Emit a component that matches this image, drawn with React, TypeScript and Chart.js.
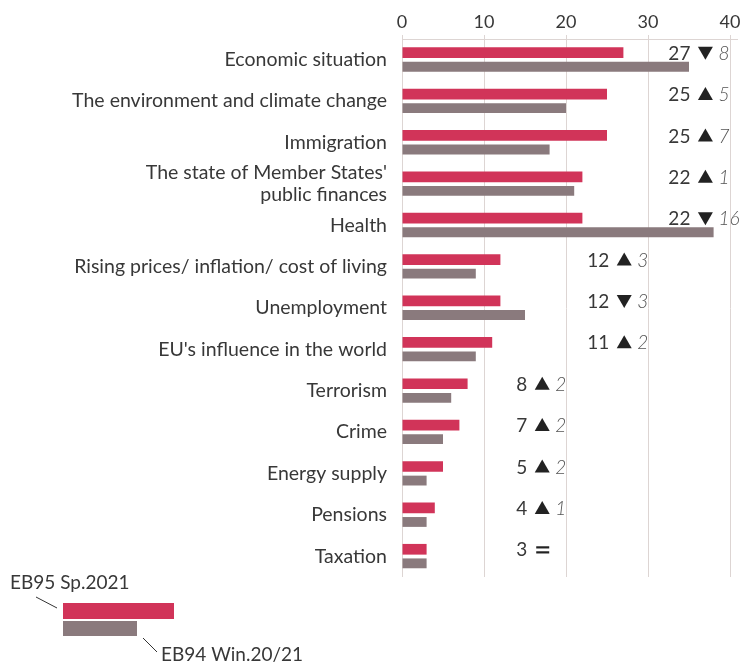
import React, { useEffect, useRef } from "react";
import { Chart, registerables } from "chart.js";

Chart.register(...registerables);

const categories: (string | string[])[] = [
  "Economic situation",
  "The environment and climate change",
  "Immigration",
  ["The state of Member States'", "public finances"],
  "Health",
  "Rising prices/ inflation/ cost of living",
  "Unemployment",
  "EU's influence in the world",
  "Terrorism",
  "Crime",
  "Energy supply",
  "Pensions",
  "Taxation",
];
const spring2021 = [27, 25, 25, 22, 22, 12, 12, 11, 8, 7, 5, 4, 3];
const winter2021 = [35, 20, 18, 21, 38, 9, 15, 9, 6, 5, 3, 3, 3];
const xTicks = [0, 10, 20, 30, 40];
const seriesLabels = ["EB95 Sp.2021", "EB94 Win.20/21"];

const FONT = "Lato";
const WEIGHT = 400;
const RED = "#d13459";
const GREY = "#8a7a7d";
const TEXT = "#383838";
const GRID = "#ddd5d3";

const annotationPlugin = {
  id: "annotations",
  afterDatasetsDraw(chart: any) {
    const ctx = chart.ctx as CanvasRenderingContext2D;
    const xs = chart.scales.x;
    const meta = chart.getDatasetMeta(0);
    ctx.save();
    spring2021.forEach((v, i) => {
      const bar = meta.data[i];
      if (!bar) return;
      const y = bar.y;
      const col = i < 5 ? 37 : i < 8 ? 27.1 : 17.1;
      const cx = xs.getPixelForValue(col);
      const diff = v - winter2021[i];
      ctx.font = `${WEIGHT} 19px ${FONT}`;
      ctx.fillStyle = TEXT;
      ctx.textAlign = "right";
      ctx.textBaseline = "middle";
      ctx.fillText(String(v), cx - 15, y + 1);
      if (diff === 0) {
        ctx.fillStyle = "#222";
        ctx.fillRect(cx - 6, y - 3, 13, 2.2);
        ctx.fillRect(cx - 6, y + 2, 13, 2.2);
      } else {
        ctx.fillStyle = "#222";
        ctx.beginPath();
        if (diff > 0) {
          ctx.moveTo(cx - 7.5, y + 6);
          ctx.lineTo(cx + 7.5, y + 6);
          ctx.lineTo(cx, y - 7);
        } else {
          ctx.moveTo(cx - 7.5, y - 6);
          ctx.lineTo(cx + 7.5, y - 6);
          ctx.lineTo(cx, y + 7);
        }
        ctx.closePath();
        ctx.fill();
        ctx.font = `italic 300 19px ${FONT}`;
        ctx.fillStyle = "#555555";
        ctx.textAlign = "left";
        ctx.fillText(String(Math.abs(diff)), cx + 13, y + 1);
      }
    });
    ctx.restore();
  },
  afterDraw(chart: any) {
    const ctx = chart.ctx as CanvasRenderingContext2D;
    const area = chart.chartArea;
    ctx.save();
    // extend top axis line slightly beyond the 40 gridline
    ctx.strokeStyle = GRID;
    ctx.lineWidth = 1;
    ctx.beginPath();
    ctx.moveTo(area.right, area.top + 0.5);
    ctx.lineTo(area.right + 8, area.top + 0.5);
    ctx.stroke();

    // custom legend
    ctx.fillStyle = RED;
    ctx.fillRect(63, 603, 111, 16);
    ctx.fillStyle = GREY;
    ctx.fillRect(63, 621, 74, 15);
    ctx.strokeStyle = "#333";
    ctx.lineWidth = 1;
    ctx.beginPath();
    ctx.moveTo(36, 597);
    ctx.lineTo(57, 608);
    ctx.moveTo(143, 638);
    ctx.lineTo(157, 652);
    ctx.stroke();
    ctx.fillStyle = TEXT;
    ctx.font = `${WEIGHT} 19px ${FONT}`;
    ctx.textAlign = "left";
    ctx.textBaseline = "alphabetic";
    ctx.fillText(seriesLabels[0], 10, 589);
    ctx.fillText(seriesLabels[1], 161, 661);
    ctx.restore();
  },
};

export default function App() {
  const ref = useRef<HTMLCanvasElement | null>(null);
  useEffect(() => {
    document.body.style.margin = "0";
    const canvas = ref.current;
    if (!canvas) return;
    const chart = new Chart(canvas, {
      type: "bar",
      data: {
        labels: categories,
        datasets: [
          {
            label: seriesLabels[0],
            data: spring2021,
            backgroundColor: RED,
            borderWidth: 0,
            categoryPercentage: 0.68,
            barPercentage: 0.76,
          },
          {
            label: seriesLabels[1],
            data: winter2021,
            backgroundColor: GREY,
            borderWidth: 0,
            categoryPercentage: 0.68,
            barPercentage: 0.7,
          },
        ],
      },
      options: {
        indexAxis: "y",
        animation: false,
        responsive: false,
        maintainAspectRatio: false,
        layout: { padding: { top: 0, right: 21, bottom: 89, left: 0 } },
        plugins: {
          legend: { display: false },
          tooltip: { enabled: false },
          title: { display: false },
        },
        scales: {
          x: {
            position: "top",
            min: 0,
            max: 40,
            afterBuildTicks: (scale: any) => {
              scale.ticks = xTicks.map((v) => ({ value: v }));
            },
            afterFit: (scale: any) => {
              scale.height = 39;
            },
            grid: {
              color: GRID,
              lineWidth: 1,
              drawTicks: true,
              tickLength: 4,
            },
            border: { display: true, color: GRID, width: 1 },
            ticks: {
              padding: 2,
              color: TEXT,
              font: { family: FONT, size: 18, weight: WEIGHT },
            },
          },
          y: {
            afterFit: (scale: any) => {
              scale.width = 402;
            },
            grid: { display: false, drawTicks: false },
            border: { display: false },
            ticks: {
              padding: 15,
              color: TEXT,
              font: { family: FONT, size: 19.5, lineHeight: 1.15, weight: WEIGHT },
              autoSkip: false,
            },
          },
        },
      },
      plugins: [annotationPlugin],
    });
    return () => chart.destroy();
  }, []);
  return (
    <div style={{ width: 751, height: 666, position: "relative" }}>
      <canvas ref={ref} width={751} height={666} style={{ display: "block" }} />
    </div>
  );
}
